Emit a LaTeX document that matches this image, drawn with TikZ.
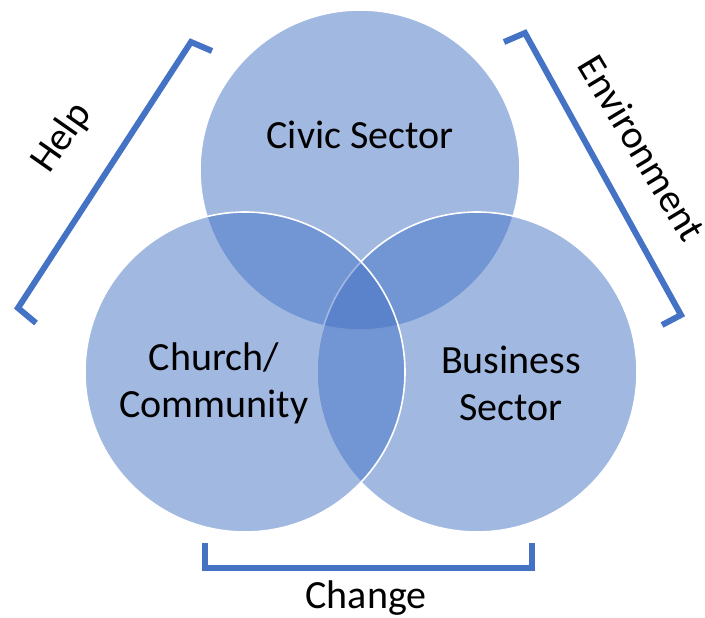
\documentclass[tikz,border=0pt]{standalone}
\usepackage{fontspec}
\setmainfont{Carlito}
\definecolor{vennblue}{HTML}{4472C4}
\definecolor{brk}{HTML}{4472C4}
\tikzset{
  venn/.style={circle, minimum size=320pt, inner sep=0pt, fill=vennblue, fill opacity=0.5, draw=white, draw opacity=1, line width=1.6pt},
  lbl/.style={font=\fontsize{40}{47}\selectfont, text=black, align=center, inner sep=0pt},
  bracket/.style={draw=brk, line width=6pt, line join=miter, line cap=butt}
}
\begin{document}
\begin{tikzpicture}[x=1pt,y=-1pt]
\useasboundingbox (0,0) rectangle (705,618);
% circles (drawn top, right, left)
\node[venn] (civic) at (360,170) {};
\node[venn] (business) at (477,372) {};
\node[venn] (church) at (245,372) {};
% circle labels
\node[lbl, anchor=base] (civicT) at (360,149) {Civic Sector};
\node[lbl] (churchT) at (214,383) {Church/\\Community};
\node[lbl] (businessT) at (511,383) {Business\\Sector};
% brackets
\coordinate (hA) at (212,51);
\coordinate (hB) at (191,42);
\coordinate (hC) at (18,308);
\coordinate (hD) at (36,323);
\draw[bracket] (hA) -- (hB) -- (hC) -- (hD);
\coordinate (eA) at (504,42);
\coordinate (eB) at (525,33);
\coordinate (eC) at (681,315);
\coordinate (eD) at (662,325);
\draw[bracket] (eA) -- (eB) -- (eC) -- (eD);
\coordinate (cA) at (205,543);
\coordinate (cB) at (205,568);
\coordinate (cC) at (532,568);
\coordinate (cD) at (532,543);
\draw[bracket] (cA) -- (cB) -- (cC) -- (cD);
% bracket labels
\node[lbl, rotate=55] (help) at (62,138) {Help};
\node[lbl, rotate=-59] (env) at (642,148) {Environment};
\node[lbl, anchor=base] (change) at (366,608) {Change};
\end{tikzpicture}
\end{document}
